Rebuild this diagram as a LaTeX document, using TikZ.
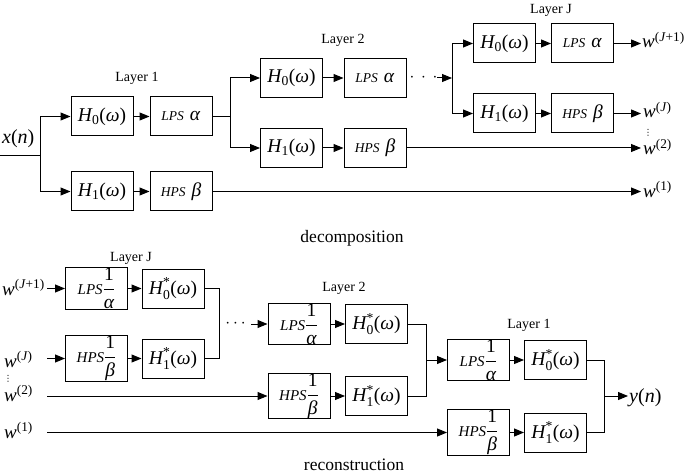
\documentclass[tikz,border=0pt]{standalone}
\usepackage{amsmath}
\usepackage{fontspec}
\setmainfont{Liberation Serif}
\newfontfamily\dejavu{DejaVu Sans}
\usetikzlibrary{arrows.meta}
\newcommand{\iv}[1]{\text{\itshape #1}}
\newcommand{\Hw}[1]{$\iv{H}_{\text{#1}}$(\textit{ω})}
\newcommand{\Hc}[1]{$\iv{H}^{\text{*}}_{\text{#1}}$(\textit{ω})}
\newcommand{\smit}[1]{{\fontsize{13.5}{15}\selectfont\textit{#1}}}
\newcommand{\mdit}[1]{{\fontsize{15}{16}\selectfont\textit{#1}}}
\newcommand{\LPSa}{\smit{LPS}\hspace{6pt}\textit{α}}
\newcommand{\HPSb}{\smit{HPS}\hspace{6pt}\textit{β}}
\newcommand{\LPSf}{\mdit{LPS}$\dfrac{\text{1}}{\iv{α}}$}
\newcommand{\HPSf}{\mdit{HPS}$\dfrac{\text{1}}{\iv{β}}$}
\newcommand{\wsup}[1]{\textit{w}$^{\text{#1}}$}
\begin{document}
\begin{tikzpicture}[x=1pt,y=-1pt,
  box/.style={draw, line width=1pt, minimum width=62pt, minimum height=39pt, inner sep=0pt, font=\fontsize{19.5}{21}\selectfont},
  arr/.style={-{Triangle[length=10pt,width=8pt]}, line width=1pt},
  ln/.style={line width=1pt},
  lay/.style={font=\fontsize{14}{16}\selectfont, inner sep=0pt},
  capt/.style={font=\fontsize{17.5}{20}\selectfont, inner sep=0pt},
  lab/.style={font=\fontsize{19}{21}\selectfont, inner sep=0pt},
  dts/.style={font=\fontsize{16}{18}\selectfont, inner sep=0pt},
  vdt/.style={font=\dejavu\fontsize{8.5}{8.5}\selectfont, inner sep=0pt}]
\useasboundingbox (0,0) rectangle (685,473);

% ---------------- decomposition ----------------
\node[lab, font=\fontsize{20}{22}\selectfont, anchor=base west] (xn) at (2,144) {\textit{x}(\textit{n})};
\coordinate (in) at (0,156);
\coordinate (s1) at (40,156);

\node[box] (a1) at (102,116.5) {\Hw{0}};
\node[box] (b1) at (181,116.5) {\LPSa};
\node[box] (c1) at (102,191.5) {\Hw{1}};
\node[box] (d1) at (181,191.5) {\HPSb};
\node[lay] (L1) at (137,78) {Layer 1};

\node[box] (a2) at (291.5,78) {\Hw{0}};
\node[box] (b2) at (375,78) {\LPSa};
\node[box] (c2) at (291.5,148) {\Hw{1}};
\node[box] (d2) at (375,148) {\HPSb};
\node[lay] (L2) at (343,40) {Layer 2};
\coordinate (s2) at (230,116.5);

\node[dts] (dt1) at (423.5,78) {$\cdot\,\cdot\,\cdot$};
\coordinate (dt1e) at (437,78);
\coordinate (s3) at (452,78);

\node[box] (aJ) at (504.5,43.5) {\Hw{0}};
\node[box] (bJ) at (582.5,43.5) {\LPSa};
\node[box] (cJ) at (504.5,113.5) {\Hw{1}};
\node[box] (dJ) at (582.5,113.5) {\HPSb};
\node[lay] (LJ) at (551,10) {Layer J};

\node[lab, anchor=base west] (oJ1) at (642,47.5) {\wsup{(\textit{J}+1)}};
\node[lab, anchor=base west] (oJ) at (643,118) {\wsup{(\textit{J})}};
\node[vdt] (vd1) at (648,133) {⋮};
\node[lab, anchor=base west] (o2) at (643,155) {\wsup{(2)}};
\node[lab, anchor=base west] (o1) at (643,197) {\wsup{(1)}};
\coordinate (e2) at (641,148);
\coordinate (e1) at (641,191.5);
\coordinate (eJ1) at (641,43.5);
\coordinate (eJ) at (641,113.5);

\draw[ln] (in) -- (s1);
\draw[arr] (s1) |- (a1);
\draw[arr] (s1) |- (c1);
\draw[arr] (a1) -- (b1);
\draw[arr] (c1) -- (d1);
\draw[ln] (b1) -- (s2);
\draw[arr] (s2) |- (a2);
\draw[arr] (s2) |- (c2);
\draw[arr] (a2) -- (b2);
\draw[arr] (c2) -- (d2);
\draw[arr] (dt1e) -- (s3);
\draw[arr] (s3) |- (aJ);
\draw[arr] (s3) |- (cJ);
\draw[arr] (aJ) -- (bJ);
\draw[arr] (cJ) -- (dJ);
\draw[arr] (bJ) -- (eJ1);
\draw[arr] (dJ) -- (eJ);
\draw[arr] (d2) -- (e2);
\draw[arr] (d1) -- (e1);

\node[capt] (dec) at (352,238) {decomposition};

% ---------------- reconstruction ----------------
\node[lab, anchor=base west] (iJ1) at (2,295) {\wsup{(\textit{J}+1)}};
\node[lab, anchor=base west] (iJ) at (4,367) {\wsup{(\textit{J})}};
\node[vdt] (vd2) at (8,379) {⋮};
\node[lab, anchor=base west] (i2) at (4,401) {\wsup{(2)}};
\node[lab, anchor=base west] (i1) at (4,438) {\wsup{(1)}};
\coordinate (tJ1) at (47,288.5);
\coordinate (tJ) at (47,358.5);
\coordinate (t2) at (47,396);
\coordinate (t1) at (47,432.5);

\node[box] (rJa) at (96.5,288.5) {\LPSf};
\node[box] (rJb) at (173,288.5) {\Hc{0}};
\node[box] (rJc) at (96.5,358.5) {\HPSf};
\node[box] (rJd) at (173,358.5) {\Hc{1}};
\node[lay] (RJ) at (131,258) {Layer J};
\coordinate (mJa) at (219,288.5);
\coordinate (mJb) at (219,358.5);

\node[inner sep=0pt, font=\fontsize{18}{20}\selectfont] (dt2) at (237,324) {$\cdots$};
\coordinate (dt2e) at (251,324);

\node[box] (r2a) at (299,324) {\LPSf};
\node[box] (r2b) at (376.5,324) {\Hc{0}};
\node[box] (r2c) at (299,396) {\HPSf};
\node[box] (r2d) at (376.5,396) {\Hc{1}};
\node[lay] (R2) at (344,288) {Layer 2};
\coordinate (m2a) at (426,324);
\coordinate (m2b) at (426,396);
\coordinate (m2) at (426,360);

\node[box] (r1a) at (478.5,360) {\LPSf};
\node[box] (r1b) at (555.5,360) {\Hc{0}};
\node[box] (r1c) at (478.5,432.5) {\HPSf};
\node[box] (r1d) at (555.5,432.5) {\Hc{1}};
\node[lay] (R1) at (529,325) {Layer 1};
\coordinate (m1a) at (604,360);
\coordinate (m1b) at (604,432.5);
\coordinate (m1) at (604,396);

\node[lab, font=\fontsize{20}{22}\selectfont, anchor=base west] (yn) at (629,402) {\textit{y}(\textit{n})};
\coordinate (ye) at (628,396);

\draw[arr] (tJ1) -- (rJa);
\draw[arr] (tJ) -- (rJc);
\draw[arr] (rJa) -- (rJb);
\draw[arr] (rJc) -- (rJd);
\draw[ln] (rJb) -- (mJa) -- (mJb) -- (rJd);
\draw[arr] (dt2e) -- (r2a);
\draw[arr] (t2) -- (r2c);
\draw[arr] (r2a) -- (r2b);
\draw[arr] (r2c) -- (r2d);
\draw[ln] (r2b) -- (m2a) -- (m2b) -- (r2d);
\draw[arr] (m2) -- (r1a);
\draw[arr] (t1) -- (r1c);
\draw[arr] (r1a) -- (r1b);
\draw[arr] (r1c) -- (r1d);
\draw[ln] (r1b) -- (m1a) -- (m1b) -- (r1d);
\draw[arr] (m1) -- (ye);

\node[capt] (rec) at (354,465) {reconstruction};
\end{tikzpicture}
\end{document}
